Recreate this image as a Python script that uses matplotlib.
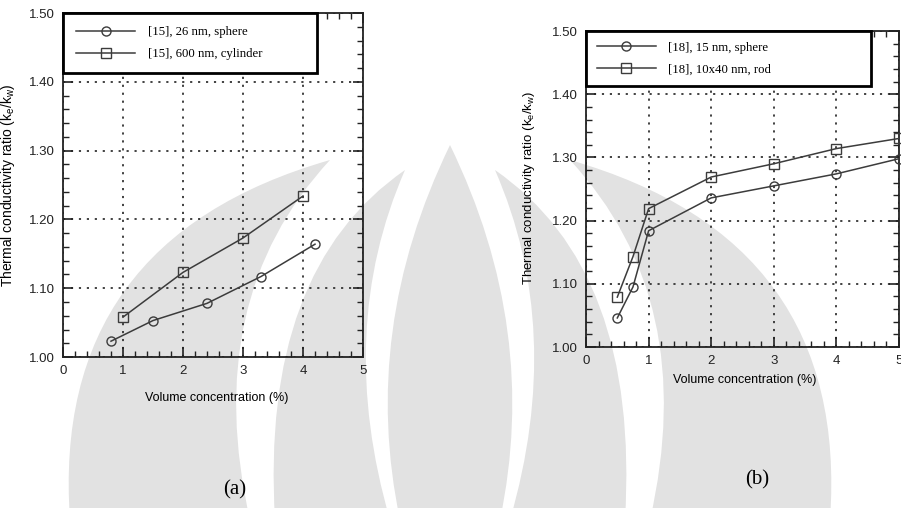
import numpy as np
import matplotlib
matplotlib.use("Agg")
import matplotlib.pyplot as plt
from matplotlib.patches import PathPatch
from matplotlib.path import Path
from matplotlib.ticker import MultipleLocator, FormatStrFormatter

plt.rcParams['font.family'] = ['Liberation Sans', 'DejaVu Sans']
plt.rcParams['mathtext.default'] = 'regular'

# (a) data from ref [15]
conc_a_sphere = [0.8, 1.5, 2.4, 3.3, 4.2]
ratio_a_sphere = [1.023, 1.053, 1.078, 1.117, 1.164]
conc_a_cyl = [1, 2, 3, 4]
ratio_a_cyl = [1.058, 1.123, 1.173, 1.234]
labels_a = ["[15], 26 nm, sphere", "[15], 600 nm, cylinder"]

# (b) data from ref [18]
conc_b = [0.5, 0.75, 1, 2, 3, 4, 5]
ratio_b_sphere = [1.046, 1.095, 1.184, 1.236, 1.255, 1.274, 1.298]
ratio_b_rod = [1.079, 1.143, 1.219, 1.269, 1.290, 1.314, 1.330]
labels_b = ["[18], 15 nm, sphere", "[18], 10x40 nm, rod"]

ylabel = "Thermal conductivity ratio (k$_e$/k$_w$)"
xlabel = "Volume concentration (%)"

LINE = '#3c3c3c'
WM = '#e2e2e2'

fig = plt.figure(figsize=(9.01, 5.08), dpi=100)

# background watermark (pixel coords, y down)
bg = fig.add_axes([0, 0, 1, 1], zorder=0)
bg.set_xlim(0, 901)
bg.set_ylim(508, 0)
bg.axis('off')


def petal(b1, b2, tip, c1, c2, color):
    verts = [b1, c1, tip, c2, b2, b1]
    codes = [Path.MOVETO, Path.CURVE3, Path.CURVE3, Path.CURVE3, Path.CURVE3, Path.CLOSEPOLY]
    bg.add_patch(PathPatch(Path(verts, codes), fc=color, ec='none'))


for s in (1, -1):
    cx = lambda x: 450 + s * (x - 450)
    # outer petal
    petal((cx(70), 520), (cx(250), 520), (cx(330), 160), (cx(50), 240), (cx(200), 300), WM)
    # middle petal
    petal((cx(275), 520), (cx(390), 520), (cx(405), 170), (cx(260), 270), (cx(335), 330), WM)
# central flame
petal((400, 520), (500, 520), (450, 145), (360, 330), (540, 330), WM)


def style_axes(ax):
    ax.patch.set_alpha(0)
    ax.set_xlim(0, 5)
    ax.set_ylim(1.0, 1.5)
    ax.xaxis.set_major_locator(MultipleLocator(1))
    ax.xaxis.set_minor_locator(MultipleLocator(0.2))
    ax.yaxis.set_major_locator(MultipleLocator(0.1))
    ax.yaxis.set_minor_locator(MultipleLocator(0.02))
    ax.yaxis.set_major_formatter(FormatStrFormatter('%.2f'))
    ax.tick_params(which='both', direction='in', top=True, right=True, colors='#222222')
    ax.tick_params(which='major', length=7, width=1.2, labelsize=9.5, pad=6)
    ax.tick_params(which='minor', length=4, width=1.0)
    for sp in ax.spines.values():
        sp.set_linewidth(1.3)
        sp.set_color('#222222')
    ax.grid(True, which='major', color='#333333', lw=1.3, ls=(0, (1.2, 3.2)))


def add_legend(ax, anchor, pad):
    leg = ax.legend(loc='upper left', bbox_to_anchor=anchor, mode='expand',
                    prop={'family': 'Liberation Serif', 'size': 9.2},
                    handlelength=4.6, handletextpad=1.0, numpoints=1,
                    borderpad=pad, labelspacing=0.75, borderaxespad=0,
                    fancybox=False, framealpha=1, edgecolor='black')
    leg.get_frame().set_linewidth(2.0)
    leg.set_zorder(5)
    return leg


mk = dict(color=LINE, lw=1.1, markersize=6.5, markerfacecolor='none',
          markeredgecolor=LINE, markeredgewidth=1.0, clip_on=False, zorder=3)

# (a)
axa = fig.add_axes([0.0699, 0.2972, 0.333, 0.6772], zorder=1)
style_axes(axa)
axa.plot(conc_a_sphere, ratio_a_sphere, marker='o', label=labels_a[0], **mk)
axa.plot(conc_a_cyl, ratio_a_cyl, marker='s', label=labels_a[1], **mk)
add_legend(axa, (0, 1.0, 0.847, 0.0), 1.05)
axa.set_ylabel(ylabel, fontsize=10)
axa.yaxis.set_label_coords(-0.153, 0.5)
axa.set_xlabel(xlabel, fontsize=9)
axa.xaxis.set_label_coords(0.513, -0.102)

# (b)
axb = fig.add_axes([0.6504, 0.3169, 0.3474, 0.622], zorder=1)
style_axes(axb)
axb.plot(conc_b, ratio_b_sphere, marker='o', label=labels_b[0], **mk)
axb.plot(conc_b, ratio_b_rod, marker='s', label=labels_b[1], **mk)
add_legend(axb, (0, 1.0, 0.91, 0.0), 0.85)
axb.set_ylabel(ylabel, fontsize=9.5)
axb.yaxis.set_label_coords(-0.157, 0.503)
axb.set_xlabel(xlabel, fontsize=9)
axb.xaxis.set_label_coords(0.508, -0.085)

# panel captions
fig.text(235 / 901, 1 - 490 / 508, "(a)", family='Liberation Serif', fontsize=15,
         ha='center', va='center')
fig.text(757 / 901, 1 - 480 / 508, "(b)", family='Liberation Serif', fontsize=15,
         ha='center', va='center')

fig.savefig("out.png", dpi=100)
